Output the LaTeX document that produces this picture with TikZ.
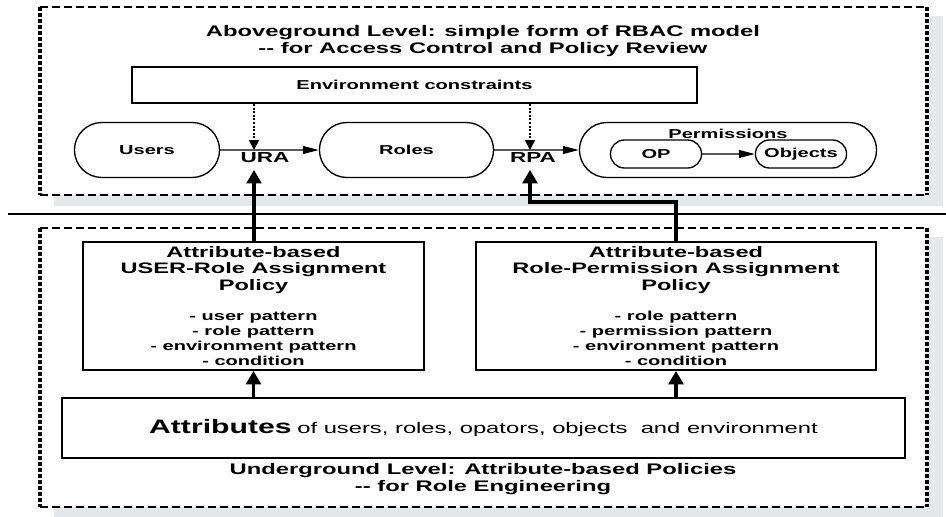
\documentclass[tikz,border=0pt]{standalone}
\usepackage{fontspec}
\setmainfont{Liberation Sans}[FakeStretch=1.55]
\usetikzlibrary{arrows.meta,shapes.misc}
\definecolor{shadowgray}{RGB}{230,231,233}
\newcommand{\lst}{\fontsize{9.7}{11.25}\selectfont}
\def\levelframe(#1,#2)(#3,#4){%
  \fill[shadowgray] (#1+14,#2+9) rectangle (#3+16,#4+11);
  \fill[white] (#1,#2) rectangle (#3,#4);
  \draw[frameh] (#1,#2) -- (#3,#2) (#1,#4) -- (#3,#4);
  \draw[framev] (#1,#2) -- (#1,#4) (#3,#2) -- (#3,#4);}

\begin{document}
\begin{tikzpicture}[x=0.75pt,y=-0.75pt,
    frameh/.style={line width=1.8pt, dash pattern=on 6pt off 3pt},
    framev/.style={line width=2.6pt, dash pattern=on 3pt off 1.5pt},
    ttl/.style={font=\fontsize{11.5}{13.3}\selectfont\bfseries, align=center},
    lbl/.style={font=\fontsize{9.7}{11.5}\selectfont\bfseries},
    asg/.style={font=\fontsize{10.9}{12}\selectfont\bfseries, inner sep=1pt},
    box/.style={draw, line width=1.4pt, inner sep=0pt},
    pill/.style={rounded rectangle, draw, line width=1pt, minimum height=41.25pt, lbl},
    smallpill/.style={rounded rectangle, draw, line width=1pt, minimum width=75pt, minimum height=21pt, lbl},
    polbox/.style={box, minimum height=96pt, align=center, font=\fontsize{11.4}{12.4}\selectfont\bfseries},
    harrow/.style={line width=1pt, -{Triangle[length=12pt,width=6pt]}},
    dotarrow/.style={line width=1.4pt, dash pattern=on 1.5pt off 1.2pt, -{Triangle[length=7.5pt,width=7.5pt]}},
    thickarrow/.style={line width=2.4pt, -{Triangle[length=10pt,width=11pt]}}]
    %%%%% START %%%%%
    \useasboundingbox (0,0) rectangle (946,517);

    % the two levels
    \levelframe(40,7)(927,195)
    \levelframe(40,228)(927,507)
    \draw[line width=1.6pt] (8,214) -- (946,214);

    % aboveground level
    \node[ttl] (abovettl) at (483,41) {Aboveground Level: simple form of RBAC model\\-{}- for Access Control and Policy Review};
    \node[box, lbl, minimum width=423.75pt, minimum height=27pt] (env) at (414.5,85) {Environment constraints};

    \node[pill, minimum width=115.5pt] (users) at (147,150) {Users};
    \node[pill, minimum width=137.25pt] (roles) at (406.5,150) {Roles};
    \node[pill, minimum width=229.5pt] (perms) at (728,150) {};
    \node[lbl, inner sep=0pt] (permlbl) at (728,134) {Permissions};
    \node[smallpill] (op) at (656,154) {OP};
    \node[smallpill] (obj) at (801,154) {Objects};

    \coordinate (ura) at (254,150);
    \coordinate (rpa) at (530,150);
    \node[asg] (uralbl) at (265,158) {URA};
    \node[asg] (rpalbl) at (533,158) {RPA};

    \draw[harrow] (users) -- (roles);
    \draw[harrow] (roles) -- (perms);
    \draw[harrow] (op) -- (obj);
    \draw[dotarrow] (env.south -| ura) -- (ura);
    \draw[dotarrow] (env.south -| rpa) -- (rpa);

    % underground level
    \node[polbox, minimum width=255.75pt] (upol) at (253.5,306) {Attribute-based\\USER-Role Assignment\\Policy\\[10pt]
      \lst - user pattern\\[-1.1pt]\lst - role pattern\\[-1.1pt]\lst - environment pattern\\[-1.1pt]\lst - condition};
    \node[polbox, minimum width=300pt] (rpol) at (676,306) {Attribute-based\\Role-Permission Assignment\\Policy\\[10pt]
      \lst - role pattern\\[-1.1pt]\lst - permission pattern\\[-1.1pt]\lst - environment pattern\\[-1.1pt]\lst - condition};
    \node[box, minimum width=632.25pt, minimum height=45pt] (attrs) at (483.5,428)
      {{\fontsize{14.6}{16}\selectfont\bfseries Attributes} {\fontsize{11.5}{13}\selectfont of users, roles, opators, objects\ \ and environment}};
    \node[ttl] (underttl) at (483,479) {Underground Level: Attribute-based Policies\\-{}- for Role Engineering};

    \draw[thickarrow] (attrs.north -| upol) -- (upol.south);
    \draw[thickarrow] (attrs.north -| rpol) -- (rpol.south);
    \draw[thickarrow] (upol.north -| ura) -- ([yshift=-4pt]uralbl.south -| ura);
    \draw[thickarrow] (rpol.north) -- ++(0,-39) -| ([yshift=-4pt]rpalbl.south -| rpa);
    %%%%% END %%%%%
\end{tikzpicture}
\end{document}
